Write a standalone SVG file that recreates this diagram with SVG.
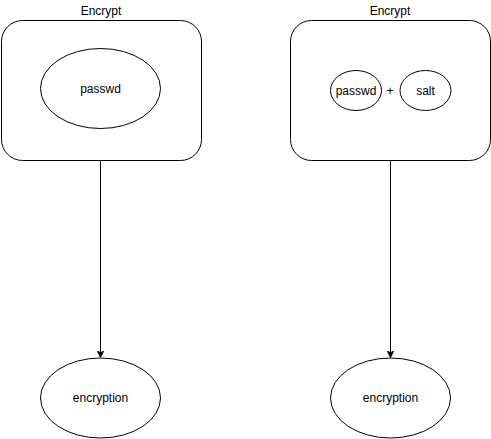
<svg xmlns="http://www.w3.org/2000/svg" width="491" height="439" viewBox="0 0 491 439">
<defs>
<marker id="arr" viewBox="0 0 10 10" refX="9" refY="5" markerWidth="7" markerHeight="7" markerUnits="userSpaceOnUse" orient="auto">
<path d="M0,0 L10,5 L0,10 L3,5 Z" fill="#000" stroke="#000"/>
</marker>
</defs>
<style>
.shape{fill:#fff;stroke:#000;stroke-width:1}
.t{font-family:"Liberation Sans",Arial,sans-serif;font-size:12px;fill:#000;text-anchor:middle;dominant-baseline:central}
.edge{stroke:#000;stroke-width:1;fill:none}
</style>
<rect width="491" height="439" fill="#fff"/>
<g id="connectors">
<path class="edge" d="M100.5,160.5 L100.5,357" marker-end="url(#arr)"/>
<path class="edge" d="M390.5,160.5 L390.5,357" marker-end="url(#arr)"/>
</g>
<g id="box1">
<text class="t" x="101" y="11">Encrypt</text>
<rect class="shape" x="1.5" y="20.5" width="200" height="140" rx="21" ry="21"/>
</g>
<g id="passwd1">
<ellipse class="shape" cx="100.5" cy="88.5" rx="60" ry="40"/>
<text class="t" x="100.5" y="88.5">passwd</text>
</g>
<g id="box2">
<text class="t" x="390" y="11">Encrypt</text>
<rect class="shape" x="290.5" y="20.5" width="200" height="140" rx="21" ry="21"/>
<text class="t" x="390" y="90.5">+</text>
</g>
<g id="passwd2">
<ellipse class="shape" cx="356" cy="90.5" rx="25.5" ry="20"/>
<text class="t" x="356" y="90.5">passwd</text>
</g>
<g id="salt">
<ellipse class="shape" cx="425.5" cy="90.5" rx="25.5" ry="20"/>
<text class="t" x="425.5" y="90.5">salt</text>
</g>
<g id="enc1">
<ellipse class="shape" cx="100.5" cy="398" rx="60" ry="40"/>
<text class="t" x="100.5" y="398">encryption</text>
</g>
<g id="enc2">
<ellipse class="shape" cx="390.5" cy="398" rx="60" ry="40"/>
<text class="t" x="390.5" y="398">encryption</text>
</g>
</svg>
